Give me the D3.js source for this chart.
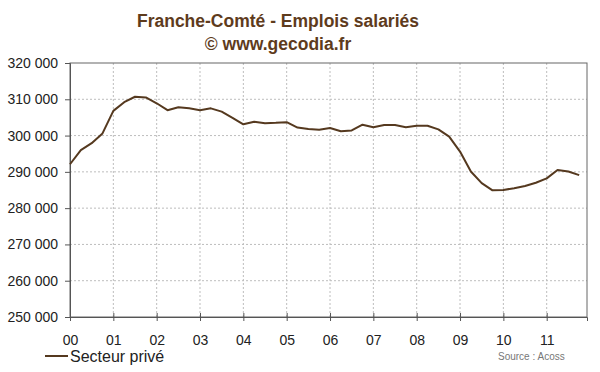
<!DOCTYPE html>
<html><head><meta charset="utf-8">
<script src="https://cdn.jsdelivr.net/npm/d3@7"></script>
<style>body{margin:0;background:#fff}svg{display:block}</style>
</head><body>
<svg id="c" width="600" height="372"></svg>
<script>
const title1 = "Franche-Comté - Emplois salariés";
const title2 = "© www.gecodia.fr";
const seriesName = "Secteur privé";
const sourceText = "Source : Acoss";
const yearLabels = ["00","01","02","03","04","05","06","07","08","09","10","11"];
const yTicks = [250000,260000,270000,280000,290000,300000,310000,320000];
// quarterly values, 2000Q1 .. 2011Q4
const values = [
 292100,296000,297900,300600,
 306800,309200,310700,310500,
 308900,307000,307800,307500,
 307000,307500,306600,304900,
 303100,303800,303400,303500,
 303700,302200,301800,301600,
 302100,301200,301400,303000,
 302300,302900,302900,302300,
 302700,302700,301700,299700,
 295600,290100,286900,284900,
 285000,285500,286100,287000,
 288200,290500,290100,289100
];

const svg = d3.select("#c");
const L = 70, R = 587, T = 63, B = 317;
const x = d3.scaleLinear().domain([0, 11.93]).range([L, R]);
const y = d3.scaleLinear().domain([250000, 320000]).range([B, T]);
const fmt = v => d3.format(",")(v).replace(/,/g, " ");

// gridlines
svg.append("g").selectAll("line").data(yTicks.slice(1, -1)).join("line")
  .attr("x1", L).attr("x2", R).attr("y1", d => y(d)).attr("y2", d => y(d))
  .attr("stroke", "#bdbdbd").attr("stroke-dasharray", "2,2");
svg.append("g").selectAll("line").data(yearLabels.map((d, i) => i).slice(1)).join("line")
  .attr("x1", d => x(d)).attr("x2", d => x(d)).attr("y1", T).attr("y2", B)
  .attr("stroke", "#bdbdbd").attr("stroke-dasharray", "2,2");

// border
svg.append("rect").attr("x", L).attr("y", T).attr("width", R - L).attr("height", B - T)
  .attr("fill", "none").attr("stroke", "#666").attr("stroke-width", 1);

// y axis
const ya = d3.axisLeft(y).tickValues(yTicks).tickFormat(fmt).tickSize(5).tickPadding(7);
const gy = svg.append("g").attr("transform", `translate(${L},0)`).call(ya);
gy.select(".domain").attr("stroke", "#555");
gy.selectAll(".tick line").attr("stroke", "#555");
gy.selectAll("text").attr("font-family", "Liberation Sans, Arial, sans-serif").attr("font-size", 14).attr("fill", "#222");

// x axis
const xa = d3.axisBottom(x).tickValues(yearLabels.map((d, i) => i)).tickFormat(i => yearLabels[i]).tickSize(4).tickPadding(14);
const gx = svg.append("g").attr("transform", `translate(0,${B})`).call(xa);
gx.select(".domain").attr("stroke", "#555");
gx.selectAll(".tick line").attr("stroke", "#555").attr("y1", -4);
gx.selectAll("text").attr("font-family", "Liberation Sans, Arial, sans-serif").attr("font-size", 14).attr("fill", "#222");

// line
const line = d3.line().x((d, i) => x(i * 0.25)).y(d => y(d));
svg.append("path").datum(values).attr("d", line).attr("fill", "none")
  .attr("stroke", "#55391f").attr("stroke-width", 2).attr("stroke-linejoin", "round");

// titles
svg.append("text").attr("x", 278).attr("y", 27).attr("text-anchor", "middle")
  .attr("font-family", "Liberation Sans, Arial, sans-serif").attr("font-weight", "bold")
  .attr("font-size", 17.5).attr("fill", "#5e3b1c").text(title1);
svg.append("text").attr("x", 278).attr("y", 50).attr("text-anchor", "middle")
  .attr("font-family", "Liberation Sans, Arial, sans-serif").attr("font-weight", "bold")
  .attr("font-size", 17.5).attr("fill", "#5e3b1c").text(title2);

// legend
svg.append("line").attr("x1", 45).attr("x2", 68).attr("y1", 356).attr("y2", 356)
  .attr("stroke", "#55391f").attr("stroke-width", 2);
svg.append("text").attr("x", 70).attr("y", 362)
  .attr("font-family", "Liberation Sans, Arial, sans-serif").attr("font-size", 16).attr("fill", "#222").text(seriesName);
svg.append("text").attr("x", 498).attr("y", 360)
  .attr("font-family", "Liberation Sans, Arial, sans-serif").attr("font-size", 10).attr("fill", "#777").text(sourceText);
</script>
</body></html>
